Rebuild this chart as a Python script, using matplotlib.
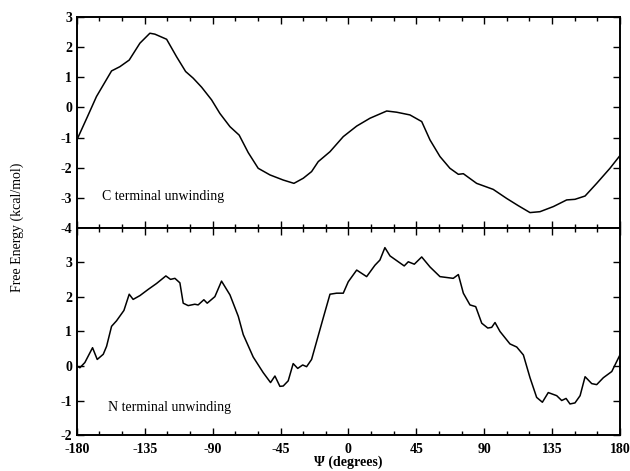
import numpy as np
import matplotlib
matplotlib.use('Agg')
import matplotlib.pyplot as plt
from matplotlib.ticker import MultipleLocator

plt.rcParams['font.family'] = ['Liberation Serif', 'DejaVu Serif']
plt.rcParams['axes.unicode_minus'] = False

# C terminal unwinding (top panel)
psi_c = [-180, -173, -167, -157, -151.5, -145.3, -138.2, -131.6, -128.3, -120.5,
         -113.9, -107.9, -102.9, -97.3, -90.7, -85.2, -78.5, -72.4, -66.4, -59.8,
         -52, -43.2, -36.1, -29.9, -24.4, -20, -12.2, -3.4, 5.5, 14.3,
         25.4, 32, 40.8, 48.6, 54.1, 60.7, 67.3, 72.9, 76.2, 85,
         96, 104.9, 112.6, 120.4, 127, 135.9, 144.7, 150.2, 156.9, 164.6,
         173.4, 180]
g_c = [-1.08, -0.31, 0.36, 1.21, 1.35, 1.57, 2.13, 2.46, 2.43, 2.26,
       1.68, 1.19, 0.97, 0.67, 0.25, -0.2, -0.64, -0.92, -1.5, -2.02,
       -2.24, -2.41, -2.52, -2.35, -2.13, -1.8, -1.47, -0.97, -0.62, -0.36,
       -0.12, -0.16, -0.25, -0.47, -1.08, -1.63, -2.02, -2.22, -2.2, -2.52,
       -2.72, -3.02, -3.26, -3.49, -3.46, -3.29, -3.07, -3.05, -2.94, -2.52,
       -2.02, -1.6]

# N terminal unwinding (bottom panel)
psi_n = [-180, -178, -174.7, -169.6, -166.5, -162.5, -160.3, -157, -153.7, -148.8,
         -145.3, -142.7, -138.2, -132.7, -127.2, -121, -117.9, -115, -111.7, -109.5,
         -106.2, -101.8, -99.6, -95.8, -93.6, -88.5, -84.1, -78.5, -73, -69.7,
         -63.1, -56.5, -51.6, -48.7, -45.4, -43.2, -39.9, -36.6, -33.6, -30.3,
         -27.7, -24.4, -21, -16.7, -12.2, -7.8, -3.4, -0.1, 5.5, 12.1,
         17.6, 20.9, 24.2, 27.6, 33.1, 37, 39.7, 43.7, 48.6, 54.1,
         60.7, 69.5, 72.9, 76.2, 80.6, 84.4, 88.4, 92.4, 95, 97.2,
         100.5, 107.1, 111.6, 116, 120.4, 124.8, 128.6, 132.5, 138.1, 141.4,
         144.3, 146.9, 150.2, 153.6, 156.9, 161.3, 164.6, 169, 174.6, 180]
g_n = [0, -0.05, 0.1, 0.53, 0.19, 0.34, 0.57, 1.15, 1.31, 1.61,
       2.08, 1.93, 2.04, 2.22, 2.39, 2.61, 2.51, 2.54, 2.41, 1.82,
       1.75, 1.79, 1.77, 1.92, 1.82, 2.01, 2.46, 2.06, 1.44, 0.91,
       0.26, -0.19, -0.48, -0.29, -0.59, -0.58, -0.43, 0.07, -0.07, 0.03,
       -0.02, 0.19, 0.72, 1.39, 2.08, 2.11, 2.11, 2.44, 2.78, 2.59,
       2.92, 3.07, 3.43, 3.19, 3.02, 2.9, 3.02, 2.95, 3.16, 2.87,
       2.59, 2.54, 2.65, 2.11, 1.77, 1.72, 1.24, 1.1, 1.12, 1.26,
       1.0, 0.64, 0.55, 0.32, -0.34, -0.91, -1.05, -0.77, -0.86, -1.0,
       -0.94, -1.1, -1.07, -0.86, -0.31, -0.51, -0.54, -0.34, -0.16, 0.32]

xticks = [-180, -135, -90, -45, 0, 45, 90, 135, 180]

fig = plt.figure(figsize=(6.3, 4.71), dpi=100)
ax1 = fig.add_axes([0.122, 0.516, 0.862, 0.448])
ax2 = fig.add_axes([0.122, 0.0764, 0.862, 0.4396])

for ax in (ax1, ax2):
    ax.set_xlim(-180, 180)
    ax.set_xticks(xticks)
    ax.xaxis.set_minor_locator(MultipleLocator(15))
    ax.tick_params(which='both', direction='in', top=True, right=True, width=1.0)
    ax.tick_params(which='major', length=5, labelsize=10)
    ax.tick_params(which='minor', length=3)
    ax.tick_params(axis='x', pad=5.5)
    for s in ax.spines.values():
        s.set_linewidth(1.4)

ax1.plot(psi_c, g_c, 'k-', linewidth=1.1)
ax1.set_ylim(-4, 3)
ax1.set_yticks(range(-4, 4))
ax1.tick_params(labelbottom=False)
for lab in ax1.get_yticklabels():
    lab.set_fontweight('bold')
ax1.text(-163.5, -2.97, 'C terminal unwinding', fontsize=10, va='center')

ax2.plot(psi_n, g_n, 'k-', linewidth=1.1)
ax2.set_ylim(-2, 4)
ax2.set_yticks(range(-2, 4))
for lab in ax2.get_yticklabels() + ax2.get_xticklabels():
    lab.set_fontweight('bold')
ax2.text(-159.5, -1.2, 'N terminal unwinding', fontsize=10, va='center')
ax2.set_xlabel('Ψ (degrees)', fontsize=10, fontweight='bold', labelpad=0)

fig.text(0.027, 0.517, 'Free Energy (kcal/mol)', rotation=90, fontsize=10,
         ha='center', va='center')

plt.savefig('out.png', dpi=100)
